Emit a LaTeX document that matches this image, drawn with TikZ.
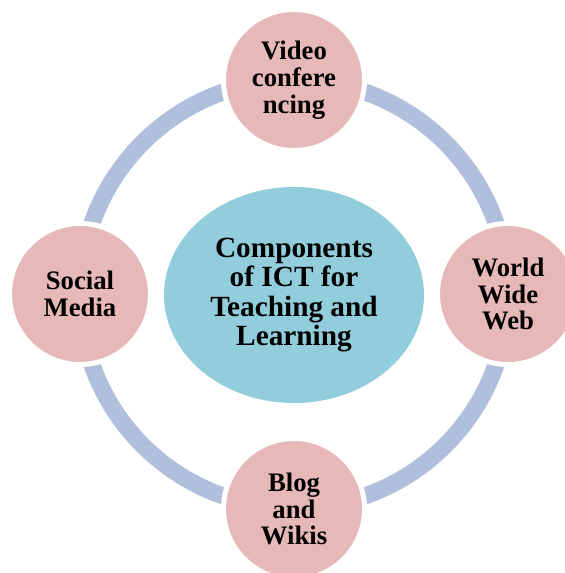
\documentclass[tikz,border=0pt]{standalone}
\usepackage{fontspec}
\setmainfont{Liberation Serif}
\usetikzlibrary{shapes.geometric}
\definecolor{ringc}{HTML}{B0BFDB}
\definecolor{pinkc}{HTML}{E6B8B7}
\definecolor{bluec}{HTML}{92CDDC}
\tikzset{
  outer/.style={circle, fill=pinkc, draw=white, line width=5bp, minimum size=141bp, inner sep=0pt,
    align=center, font=\bfseries\fontsize{26.8}{27}\selectfont},
  hub/.style={ellipse, fill=bluec, minimum width=260bp, minimum height=216bp, inner sep=0pt,
    align=center, font=\bfseries\fontsize{29.4}{29.5}\selectfont},
  ring/.style={draw=ringc, line width=17bp}
}
\begin{document}
\begin{tikzpicture}[x=1bp,y=-1bp]
\useasboundingbox (0,0) rectangle (565,573);
\clip (0,0) rectangle (565,573);
\coordinate (c) at (294,294);
\draw[ring] (c) circle[radius=214];
\node[hub] (hub) at (294,295) {Components\\of ICT for\\Teaching and\\Learning};
\node[outer] (video) at (294,80) {Video\\confere\\ncing};
\node[outer] (www) at (508,294) {World\\Wide\\Web};
\node[outer] (blog) at (294,509) {Blog\\and\\Wikis};
\node[outer] (social) at (80,294) {Social\\Media};
\end{tikzpicture}
\end{document}
